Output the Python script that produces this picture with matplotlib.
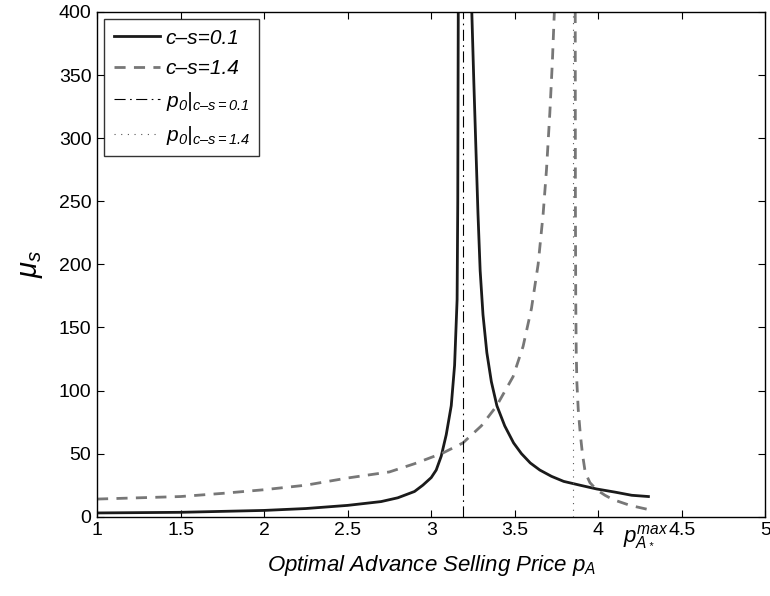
import matplotlib.pyplot as plt

plt.rcParams['font.family'] = ['Liberation Sans', 'DejaVu Sans']
plt.rcParams['mathtext.fontset'] = 'custom'
plt.rcParams['mathtext.rm'] = 'Liberation Sans:italic'
plt.rcParams['mathtext.it'] = 'Liberation Sans:italic'
plt.rcParams['mathtext.bf'] = 'Liberation Sans:bold'

# c-s=0.1 curve, two branches around the pole
low_x1 = [1, 1.5, 2, 2.25, 2.5, 2.6, 2.7, 2.8, 2.9, 2.95, 3.0, 3.03, 3.06, 3.09, 3.12,
          3.14, 3.155, 3.159, 3.162]
low_y1 = [3, 3.5, 5, 6.5, 9, 10.5, 12, 15, 20, 25, 31, 37, 48, 65, 88,
          120, 172, 250, 400]
high_x1 = [3.243, 3.255, 3.268, 3.28, 3.293, 3.31, 3.333, 3.36, 3.393, 3.44, 3.493, 3.54,
           3.593, 3.65, 3.72, 3.793, 3.89, 3.99, 4.1, 4.2, 4.3]
high_y1 = [400, 345, 290, 240, 195, 160, 130, 107, 88, 72, 58.5, 50,
           42.6, 37, 32, 28, 25, 22, 19.5, 17, 16]

# c-s=1.4 curve
low_x2 = [1, 1.25, 1.5, 1.75, 2, 2.25, 2.5, 2.75, 2.9, 3.07, 3.19, 3.3, 3.39, 3.49, 3.55,
          3.6, 3.64, 3.67, 3.69, 3.71, 3.725, 3.737]
low_y2 = [14, 15, 16, 18.5, 21.4, 25, 30.7, 35.5, 42, 50.5, 58.5, 72, 87.5, 111, 135,
          165, 200, 240, 275, 320, 360, 400]
high_x2 = [3.862, 3.863, 3.865, 3.868, 3.872, 3.88, 3.892, 3.905, 3.922, 3.95, 3.99,
           4.04, 4.09, 4.19, 4.29]
high_y2 = [400, 250, 172, 130, 106, 85, 66, 50, 35, 27, 21.4, 17, 13.5, 9, 6]

p0_1 = 3.19
p0_2 = 3.848

fig = plt.figure(figsize=(7.7, 5.96), dpi=100)
ax = fig.add_axes([0.126, 0.133, 0.868, 0.847])

ax.plot(low_x1, low_y1, color='#1a1a1a', lw=2.0, label='c\u2013s=0.1')
ax.plot(high_x1, high_y1, color='#1a1a1a', lw=2.0)
ax.plot(low_x2, low_y2, color='#777777', lw=2.0, ls=(0, (4, 3)), label='c\u2013s=1.4')
ax.plot(high_x2, high_y2, color='#777777', lw=2.0, ls=(0, (4, 3)))
ax.plot([p0_1, p0_1], [0, 400], color='black', lw=0.8, ls=(0, (10, 4, 1.5, 4)),
        label='$p_0|_{c\u2013s=0.1}$')
ax.plot([p0_2, p0_2], [0, 400], color='#555555', lw=0.8, ls=(0, (1, 5)),
        label='$p_0|_{c\u2013s=1.4}$')

ax.set_xlim(1, 5)
ax.set_ylim(0, 400)
ax.set_xticks([1, 1.5, 2, 2.5, 3, 3.5, 4, 4.5, 5])
ax.set_xticklabels(['1', '1.5', '2', '2.5', '3', '3.5', '4', '4.5', '5'])
ax.set_yticks(range(0, 401, 50))
ax.tick_params(direction='in', top=True, right=True, labelsize=14, length=5, pad=4)
for s in ax.spines.values():
    s.set_linewidth(1.0)

ax.text(4.145, -5, r'$p_{A_*}^{max}$', fontsize=16, ha='left', va='top')

ax.set_xlabel(r'Optimal Advance Selling Price $p_A$', fontsize=16, style='italic',
              labelpad=10)
ax.set_ylabel(r'$\mu_s$', fontsize=21, labelpad=10)

leg = ax.legend(loc='upper left', fontsize=15, frameon=True, fancybox=False,
                edgecolor='black', handlelength=2.2, handletextpad=0.3,
                borderaxespad=0.35, borderpad=0.45, labelspacing=0.55)
for t in leg.get_texts()[:2]:
    t.set_style('italic')
leg.get_frame().set_linewidth(1.0)

plt.savefig('out.png', dpi=100)
